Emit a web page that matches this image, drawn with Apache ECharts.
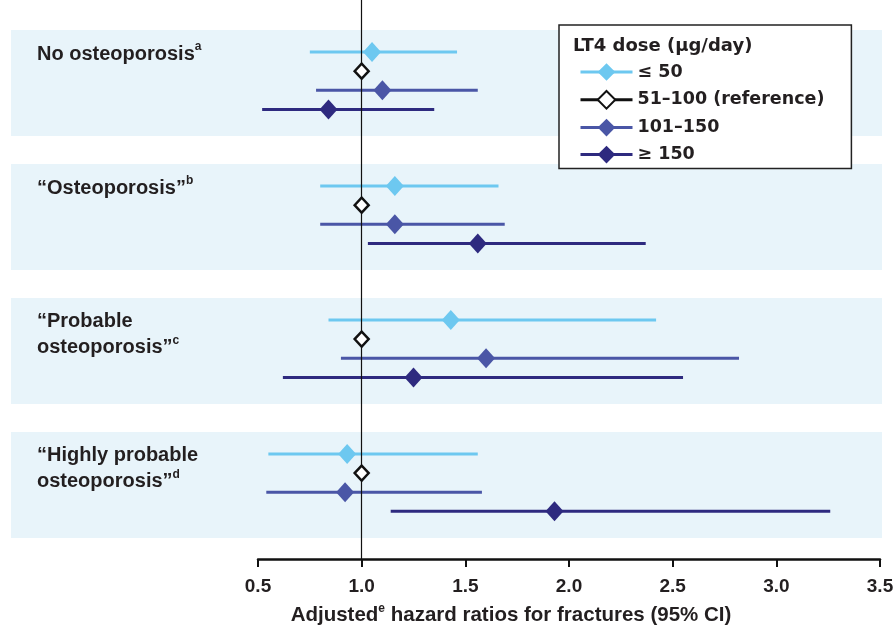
<!DOCTYPE html>
<html>
<head>
<meta charset="utf-8">
<script src="https://cdn.jsdelivr.net/npm/echarts@6/dist/echarts.min.js"></script>
<style>
  html, body { margin: 0; padding: 0; background: #fff; }
  #chart { width: 894px; height: 627px; }
</style>
</head>
<body>
<div id="chart"></div>
<script>
// Subgroups (rows of the forest plot), with superscript footnote marks
const groupLabels = [
  '{t|No osteoporosis}{s|a}',
  '{t|\u201COsteoporosis\u201D}{s|b}',
  '{t|\u201CProbable}\n{t|osteoporosis\u201D}{s|c}',
  '{t|\u201CHighly probable}\n{t|osteoporosis\u201D}{s|d}'
];

// LT4 dose categories
const doseNames = ['\u2264 50', '51\u2013100 (reference)', '101\u2013150', '\u2265 150'];

// Adjusted hazard ratios and 95% CI, one value per subgroup
const hrLe50 = [1.05, 1.16, 1.43, 0.93];
const loLe50 = [0.75, 0.80, 0.84, 0.55];
const hiLe50 = [1.46, 1.66, 2.42, 1.56];

const hrRef = [1.0, 1.0, 1.0, 1.0];

const hr101 = [1.10, 1.16, 1.60, 0.92];
const lo101 = [0.78, 0.80, 0.90, 0.54];
const hi101 = [1.56, 1.69, 2.82, 1.58];

const hrGe150 = [0.84, 1.56, 1.25, 1.93];
const loGe150 = [0.52, 1.03, 0.62, 1.14];
const hiGe150 = [1.35, 2.37, 2.55, 3.26];

const xTicks = [0.5, 1.0, 1.5, 2.0, 2.5, 3.0, 3.5];
const referenceHR = 1.0;

// ---- layout helpers ----
const GROUP_PITCH = 7;      // rows per subgroup block incl. gap
const BAND_HEIGHT = 5.54;   // shaded block height in row units
const FIRST_ROW = 1.15;     // offset of first row inside a block
const rowY = (g, r) => g * GROUP_PITCH + FIRST_ROW + r;

const TEXT = '#231f20';
const colors = ['#6dc8f0', '#111111', '#4a56a6', '#2e2a7f'];
const FONT = '"Liberation Sans", Arial, sans-serif';
const LEG_FONT = '"DejaVu Sans", "Liberation Sans", sans-serif';

const estimates = [hrLe50, hrRef, hr101, hrGe150];
const lows = [loLe50, null, lo101, loGe150];
const highs = [hiLe50, null, hi101, hiGe150];

const series = [];

// shaded subgroup blocks with their labels
series.push({
  type: 'custom',
  name: 'blocks',
  z: 1,
  clip: false,
  silent: true,
  data: groupLabels.map((_, i) => [i]),
  renderItem: function (params, api) {
    const g = params.dataIndex;
    const cs = params.coordSys;
    const top = api.coord([xTicks[0], g * GROUP_PITCH])[1];
    const bottom = api.coord([xTicks[0], g * GROUP_PITCH + BAND_HEIGHT])[1];
    const firstRow = api.coord([xTicks[0], rowY(g, 0)])[1];
    const x0 = cs.x - 247;
    const x1 = cs.x + cs.width + 2;
    return {
      type: 'group',
      children: [
        {
          type: 'rect',
          shape: { x: x0, y: top, width: x1 - x0, height: bottom - top },
          style: { fill: '#e8f4fa' }
        },
        {
          type: 'text',
          x: x0 + 26,
          y: firstRow - 11,
          style: {
            text: groupLabels[g],
            verticalAlign: 'top',
            align: 'left',
            rich: {
              t: { fontSize: 20, fontWeight: 'bold', fontFamily: FONT, fill: TEXT, lineHeight: 26 },
              s: { fontSize: 12, fontWeight: 'bold', fontFamily: FONT, fill: TEXT, lineHeight: 12, verticalAlign: 'top' }
            }
          }
        }
      ]
    };
  }
});

// point estimates (diamonds); line kept invisible, used for the legend sample
doseNames.forEach(function (name, d) {
  const isRef = d === 1;
  series.push({
    type: 'line',
    name: name,
    z: 6,
    symbol: 'diamond',
    symbolSize: isRef ? [14, 15] : [18, 20],
    showSymbol: true,
    lineStyle: { width: 0, opacity: 0, color: colors[d] },
    itemStyle: isRef
      ? { color: '#ffffff', borderColor: '#111111', borderWidth: 2.5 }
      : { color: colors[d] },
    emphasis: { disabled: true },
    animation: false,
    data: estimates[d].map((v, g) => [v, rowY(g, d)])
  });
});

// confidence intervals
doseNames.forEach(function (name, d) {
  if (!lows[d]) return;
  series.push({
    type: 'custom',
    name: 'CI ' + name,
    z: 2,
    silent: true,
    data: lows[d].map((lo, g) => [lo, highs[d][g], rowY(g, d)]),
    renderItem: function (params, api) {
      const a = api.coord([api.value(0), api.value(2)]);
      const b = api.coord([api.value(1), api.value(2)]);
      return {
        type: 'line',
        shape: { x1: a[0], y1: a[1], x2: b[0], y2: b[1] },
        style: { stroke: colors[d], lineWidth: 3 }
      };
    }
  });
});

// vertical line at HR = 1
series.push({
  type: 'line',
  name: 'refline',
  z: 4,
  data: [],
  markLine: {
    silent: true,
    symbol: 'none',
    label: { show: false },
    lineStyle: { color: '#111111', width: 1.2, type: 'solid' },
    data: [{ xAxis: referenceHR }]
  }
});

const chart = echarts.init(document.getElementById('chart'), null, { renderer: 'canvas' });
chart.setOption({
  animation: false,
  backgroundColor: '#ffffff',
  grid: { left: 258, right: 14, top: 0, bottom: 68, containLabel: false, outerBoundsMode: 'none' },
  title: {
    text: 'LT4 dose (\u00B5g/day)',
    left: 568,
    top: 32,
    z: 10,
    textStyle: { fontFamily: LEG_FONT, fontWeight: 'bold', fontSize: 18, color: TEXT }
  },
  legend: {
    data: doseNames,
    orient: 'vertical',
    left: 559,
    top: 25,
    padding: [38, 27, 5, 20],
    itemWidth: 52,
    itemHeight: 22,
    itemGap: 9,
    selectedMode: false,
    backgroundColor: '#ffffff',
    borderColor: '#222222',
    borderWidth: 1.5,
    borderRadius: 0,
    lineStyle: { width: 3, opacity: 1 },
    textStyle: { fontFamily: LEG_FONT, fontWeight: 'bold', fontSize: 17.5, color: TEXT }
  },
  xAxis: {
    type: 'value',
    min: xTicks[0],
    max: xTicks[xTicks.length - 1],
    interval: 0.5,
    axisLine: { show: true, onZero: false, lineStyle: { color: '#111111', width: 2.5 } },
    axisTick: { show: true, inside: false, length: 8, lineStyle: { color: '#111111', width: 2 } },
    splitLine: { show: false },
    axisLabel: {
      margin: 18,
      fontFamily: FONT,
      fontWeight: 'bold',
      fontSize: 19,
      color: TEXT,
      formatter: v => v.toFixed(1)
    },
    name: '{t|Adjusted}{s|e}{t| hazard ratios for fractures (95% CI)}',
    nameLocation: 'middle',
    nameGap: 44,
    nameTextStyle: {
      padding: [0, 116, 0, 0],
      rich: {
        t: { fontFamily: FONT, fontWeight: 'bold', fontSize: 20.5, color: TEXT, lineHeight: 24 },
        s: { fontFamily: FONT, fontWeight: 'bold', fontSize: 12, color: TEXT, lineHeight: 12, verticalAlign: 'top' }
      }
    }
  },
  yAxis: {
    type: 'value',
    inverse: true,
    min: -1.57,
    max: 27.64,
    show: false
  },
  series: series
});
</script>
</body>
</html>
